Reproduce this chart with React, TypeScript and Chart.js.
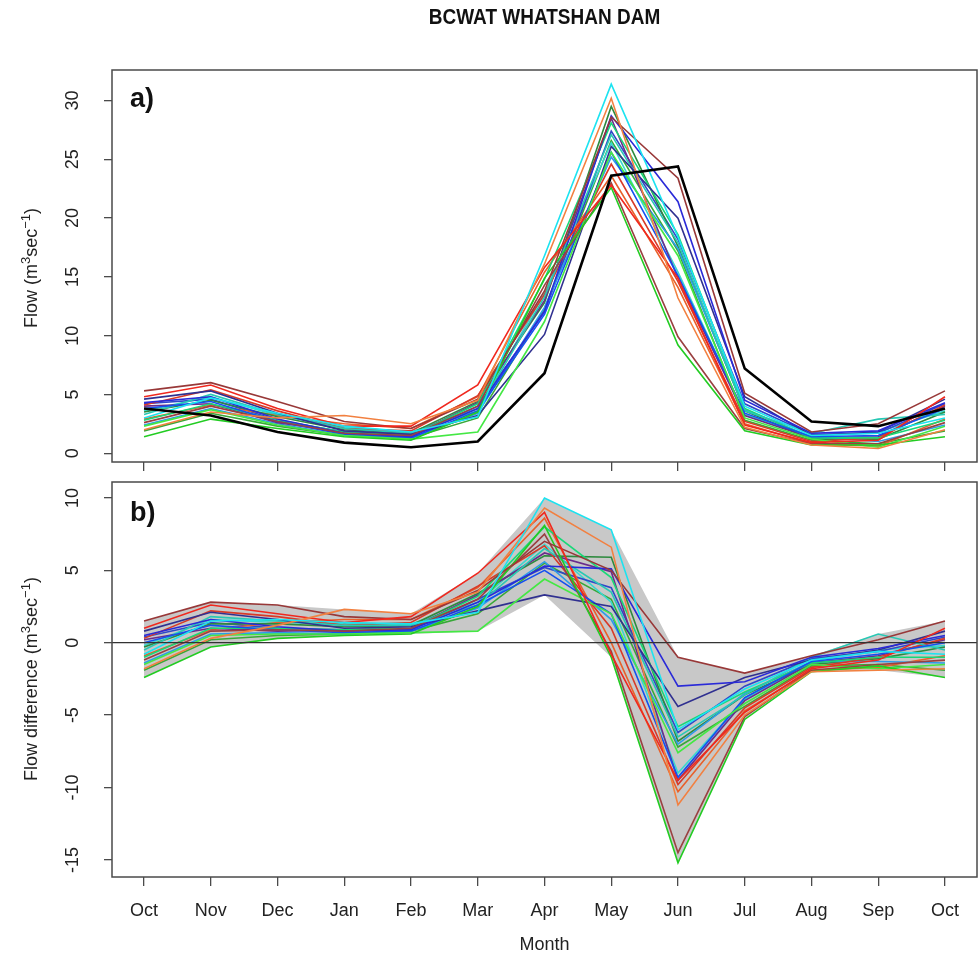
import React, { useEffect, useRef } from "react";
import { Chart, registerables } from "chart.js";

Chart.register(...registerables);

// ---------- data ----------
const MONTHS = ["Oct", "Nov", "Dec", "Jan", "Feb", "Mar", "Apr", "May", "Jun", "Jul", "Aug", "Sep", "Oct"];
const FLOW_TICKS = [0, 5, 10, 15, 20, 25, 30];
const DIFF_TICKS = [-15, -10, -5, 0, 5, 10];

const OBSERVED_FLOW = [3.8, 3.2, 1.8, 0.9, 0.5, 1.0, 6.8, 23.6, 24.4, 7.2, 2.7, 2.3, 3.8];

const FLOW_01 = [3.0, 4.7, 3.4, 2.3, 1.8, 3.1, 16.8, 31.4, 18.4, 4.0, 1.5, 1.7, 3.0];
const FLOW_02 = [2.0, 3.5, 3.0, 3.2, 2.5, 4.5, 16.1, 30.2, 13.2, 2.2, 0.7, 0.4, 2.0];
const FLOW_03 = [4.8, 5.8, 3.8, 2.3, 2.3, 5.8, 15.8, 22.8, 14.9, 2.4, 0.9, 1.1, 4.8];
const FLOW_04 = [5.3, 6.0, 4.4, 2.7, 2.1, 4.6, 13.8, 28.6, 23.4, 5.1, 1.8, 2.5, 5.3];
const FLOW_05 = [1.4, 2.9, 2.1, 1.4, 1.1, 3.5, 14.9, 22.6, 9.2, 1.9, 0.7, 0.7, 1.4];
const FLOW_06 = [2.6, 4.0, 2.7, 1.7, 1.5, 4.0, 14.3, 23.0, 9.9, 2.1, 0.8, 0.8, 2.6];
const FLOW_07 = [2.3, 3.7, 2.4, 1.5, 1.2, 1.8, 11.2, 25.6, 16.8, 3.0, 1.2, 0.5, 2.3];
const FLOW_08 = [4.3, 4.8, 2.9, 1.7, 1.4, 3.8, 12.1, 28.7, 21.4, 4.5, 1.7, 1.9, 4.3];
const FLOW_09 = [4.6, 5.3, 3.4, 1.9, 1.6, 3.2, 10.1, 26.1, 20.0, 4.8, 1.5, 1.8, 4.6];
const FLOW_10 = [3.8, 4.4, 2.7, 1.6, 1.3, 3.6, 11.8, 25.6, 15.1, 3.4, 1.4, 1.5, 3.8];
const FLOW_11 = [3.3, 5.0, 3.3, 2.1, 1.7, 3.6, 13.3, 27.1, 17.9, 3.6, 1.7, 2.9, 3.3];
const FLOW_12 = [2.8, 4.2, 2.8, 1.8, 1.5, 4.2, 14.8, 28.1, 18.6, 3.8, 1.3, 1.3, 2.8];
const FLOW_13 = [4.1, 5.4, 3.6, 2.1, 1.9, 4.9, 13.5, 24.6, 14.6, 2.7, 1.0, 1.3, 4.1];
const FLOW_14 = [4.0, 4.2, 2.6, 1.8, 1.5, 4.3, 13.0, 28.5, 14.9, 3.2, 1.3, 1.4, 4.0];
const FLOW_15 = [2.4, 3.8, 2.5, 1.5, 1.3, 3.4, 12.4, 25.2, 17.4, 3.7, 1.4, 1.0, 2.4];
const FLOW_16 = [3.5, 4.5, 3.1, 2.0, 1.7, 4.4, 12.8, 29.5, 17.6, 3.6, 1.2, 1.2, 3.5];
const FLOW_17 = [2.9, 4.1, 3.2, 2.5, 2.1, 4.8, 15.4, 23.6, 14.1, 2.5, 0.8, 0.6, 2.9];
const FLOW_18 = [4.2, 4.6, 2.8, 1.8, 1.4, 4.0, 12.0, 27.4, 18.2, 4.2, 1.6, 1.7, 4.2];
const FLOW_19 = [3.6, 4.8, 3.2, 2.2, 1.8, 3.8, 13.6, 26.4, 15.4, 3.3, 1.4, 1.8, 3.6];
const FLOW_20 = [1.9, 3.4, 2.3, 1.5, 1.3, 3.0, 12.3, 26.6, 17.2, 2.8, 1.1, 0.8, 1.9];

const DIFF_01 = [-0.8, 1.5, 1.6, 1.4, 1.3, 2.1, 10.0, 7.8, -6.0, -3.2, -1.2, -0.6, -0.8];
const DIFF_02 = [-1.8, 0.3, 1.2, 2.3, 2.0, 3.5, 9.3, 6.6, -11.2, -5.0, -2.0, -1.9, -1.8];
const DIFF_03 = [1.0, 2.6, 2.0, 1.4, 1.8, 4.8, 9.0, -0.8, -9.5, -4.8, -1.8, -1.2, 1.0];
const DIFF_04 = [1.5, 2.8, 2.6, 1.8, 1.6, 3.6, 7.0, 5.0, -1.0, -2.1, -0.9, 0.2, 1.5];
const DIFF_05 = [-2.4, -0.3, 0.3, 0.5, 0.6, 2.5, 8.1, -1.0, -15.2, -5.3, -2.0, -1.6, -2.4];
const DIFF_06 = [-1.2, 0.8, 0.9, 0.8, 1.0, 3.0, 7.5, -0.6, -14.5, -5.1, -1.9, -1.5, -1.2];
const DIFF_07 = [-1.5, 0.5, 0.6, 0.6, 0.7, 0.8, 4.4, 2.0, -7.6, -4.2, -1.5, -1.8, -1.5];
const DIFF_08 = [0.5, 1.6, 1.1, 0.8, 0.9, 2.8, 5.3, 5.1, -3.0, -2.7, -1.0, -0.4, 0.5];
const DIFF_09 = [0.8, 2.1, 1.6, 1.0, 1.1, 2.2, 3.3, 2.5, -4.4, -2.4, -1.2, -0.5, 0.8];
const DIFF_10 = [0.0, 1.2, 0.9, 0.7, 0.8, 2.6, 5.0, 2.0, -9.3, -3.8, -1.3, -0.8, 0.0];
const DIFF_11 = [-0.5, 1.8, 1.5, 1.2, 1.2, 2.6, 6.5, 3.5, -6.5, -3.6, -1.0, 0.6, -0.5];
const DIFF_12 = [-1.0, 1.0, 1.0, 0.9, 1.0, 3.2, 8.0, 4.5, -5.8, -3.4, -1.4, -1.0, -1.0];
const DIFF_13 = [0.3, 2.2, 1.8, 1.2, 1.4, 3.9, 6.7, 1.0, -9.8, -4.5, -1.7, -1.0, 0.3];
const DIFF_14 = [0.2, 1.0, 0.8, 0.9, 1.0, 3.3, 6.2, 4.9, -9.5, -4.0, -1.4, -0.9, 0.2];
const DIFF_15 = [-1.4, 0.6, 0.7, 0.6, 0.8, 2.4, 5.6, 1.6, -7.0, -3.5, -1.3, -1.3, -1.4];
const DIFF_16 = [-0.3, 1.3, 1.3, 1.1, 1.2, 3.4, 6.0, 5.9, -6.8, -3.6, -1.5, -1.1, -0.3];
const DIFF_17 = [-0.9, 0.9, 1.4, 1.6, 1.6, 3.8, 8.6, 0.0, -10.3, -4.7, -1.9, -1.7, -0.9];
const DIFF_18 = [0.4, 1.4, 1.0, 0.9, 0.9, 3.0, 5.2, 3.8, -6.2, -3.0, -1.1, -0.6, 0.4];
const DIFF_19 = [-0.2, 1.6, 1.4, 1.3, 1.3, 2.8, 6.8, 2.8, -9.0, -3.9, -1.3, -0.5, -0.2];
const DIFF_20 = [-1.9, 0.2, 0.5, 0.6, 0.8, 2.0, 5.5, 3.0, -7.2, -4.4, -1.6, -1.5, -1.9];

const ENVELOPE_MAX = [1.5, 2.8, 2.6, 2.3, 2.0, 4.8, 10.0, 7.8, -1.0, -2.1, -0.9, 0.6, 1.5];
const ENVELOPE_MIN = [-2.4, -0.3, 0.3, 0.5, 0.6, 0.8, 3.3, -1.0, -15.2, -5.3, -2.0, -1.9, -2.4];
const ZERO_LINE = 0;

const RUN_FLOWS = [FLOW_01, FLOW_02, FLOW_03, FLOW_04, FLOW_05, FLOW_06, FLOW_07, FLOW_08, FLOW_09, FLOW_10,
  FLOW_11, FLOW_12, FLOW_13, FLOW_14, FLOW_15, FLOW_16, FLOW_17, FLOW_18, FLOW_19, FLOW_20];
const RUN_DIFFS = [DIFF_01, DIFF_02, DIFF_03, DIFF_04, DIFF_05, DIFF_06, DIFF_07, DIFF_08, DIFF_09, DIFF_10,
  DIFF_11, DIFF_12, DIFF_13, DIFF_14, DIFF_15, DIFF_16, DIFF_17, DIFF_18, DIFF_19, DIFF_20];

// ---------- styles ----------
const RUN_COLORS = [
  "#1CE3F0", "#F28040", "#F0281E", "#983838", "#22CC22",
  "#9A4040", "#44E844", "#2A2AD8", "#303090", "#1450F0",
  "#28C8B4", "#18D878", "#D83A28", "#6A2C8C", "#2C9CE8",
  "#2E8A3E", "#E8602A", "#3048C8", "#38D8D0", "#38A838",
];
const FONT_FAMILY = "'Liberation Sans', Arimo, Arial, Helvetica, sans-serif";
const AXIS_COLOR = "#4a4a4a";
const TEXT_COLOR = "#222";
const FONT_SIZE = 18;
const X_MIN = -0.48;
const X_MAX = 12.48;
const FLOW_MIN = -0.75;
const FLOW_MAX = 32.6;
const DIFF_MIN = -16.18;
const DIFF_MAX = 11.1;

const toPoints = (vals: number[]) => vals.map((y, x) => ({ x, y }));

const boxPlugin = {
  id: "boxFrame",
  afterDatasetsDraw(chart: any) {
    const { ctx, chartArea: a, scales } = chart;
    ctx.save();
    if (chart.options.plugins.zeroLine?.show) {
      const y = scales.y.getPixelForValue(ZERO_LINE);
      ctx.strokeStyle = "#333";
      ctx.lineWidth = 1.3;
      ctx.beginPath();
      ctx.moveTo(a.left, y);
      ctx.lineTo(a.right, y);
      ctx.stroke();
    }
    ctx.strokeStyle = AXIS_COLOR;
    ctx.lineWidth = 1.5;
    ctx.strokeRect(a.left, a.top, a.right - a.left, a.bottom - a.top);
    ctx.restore();
  },
};

function xScale(showLabels: boolean, height: number) {
  return {
    type: "linear",
    min: X_MIN,
    max: X_MAX,
    bounds: "data",
    afterBuildTicks: (s: any) => {
      s.ticks = MONTHS.map((_, i) => ({ value: i }));
    },
    afterFit: (s: any) => {
      s.height = height;
      s.paddingLeft = 0;
      s.paddingRight = 0;
      s.paddingTop = 0;
      s.paddingBottom = 0;
    },
    border: { display: false },
    grid: {
      drawOnChartArea: false,
      drawTicks: true,
      tickLength: 9,
      lineWidth: 1.3,
      color: AXIS_COLOR,
      tickColor: AXIS_COLOR,
    },
    ticks: {
      display: showLabels,
      autoSkip: false,
      maxRotation: 0,
      minRotation: 0,
      padding: 14,
      color: TEXT_COLOR,
      font: { family: FONT_FAMILY, size: FONT_SIZE },
      callback: (v: any) => MONTHS[Math.round(Number(v))] ?? "",
    },
    title: {
      display: showLabels,
      text: "Month",
      color: TEXT_COLOR,
      font: { family: FONT_FAMILY, size: FONT_SIZE },
      padding: { top: 0, bottom: 4 },
    },
  };
}

function yScale(min: number, max: number, ticks: number[], pad: number) {
  return {
    type: "linear",
    min,
    max,
    bounds: "data",
    afterBuildTicks: (s: any) => {
      s.ticks = ticks.map((v) => ({ value: v }));
    },
    afterFit: (s: any) => {
      s.width = 112;
      s.paddingLeft = 0;
      s.paddingRight = 0;
      s.paddingTop = 0;
      s.paddingBottom = 0;
    },
    border: { display: false },
    grid: {
      drawOnChartArea: false,
      drawTicks: true,
      tickLength: 8,
      lineWidth: 1.3,
      color: AXIS_COLOR,
      tickColor: AXIS_COLOR,
    },
    ticks: {
      minRotation: 90,
      maxRotation: 90,
      crossAlign: "center",
      padding: pad,
      color: TEXT_COLOR,
      font: { family: FONT_FAMILY, size: FONT_SIZE },
    },
    title: { display: false },
  };
}

function flowConfig(): any {
  const runs = RUN_FLOWS.map((vals, i) => ({
    data: toPoints(vals),
    borderColor: RUN_COLORS[i],
    borderWidth: 1.6,
    pointRadius: 0,
    fill: false,
    tension: 0,
  }));
  return {
    type: "line",
    data: {
      datasets: [
        { data: toPoints(OBSERVED_FLOW), borderColor: "#000", borderWidth: 2.6, pointRadius: 0, fill: false, tension: 0 },
        ...runs,
      ],
    },
    options: {
      responsive: false,
      animation: false,
      events: [],
      layout: { padding: { top: 70, right: 3, left: 0, bottom: 0 } },
      plugins: { legend: { display: false }, tooltip: { enabled: false }, zeroLine: { show: false } },
      scales: {
        x: xScale(false, 18),
        y: yScale(FLOW_MIN, FLOW_MAX, FLOW_TICKS, 21),
      },
    },
    plugins: [boxPlugin],
  };
}

function diffConfig(): any {
  const runs = RUN_DIFFS.map((vals, i) => ({
    data: toPoints(vals),
    borderColor: RUN_COLORS[i],
    borderWidth: 1.6,
    pointRadius: 0,
    fill: false,
    tension: 0,
  }));
  return {
    type: "line",
    data: {
      datasets: [
        ...runs,
        {
          data: toPoints(ENVELOPE_MAX),
          borderWidth: 0,
          borderColor: "rgba(0,0,0,0)",
          backgroundColor: "rgb(200,200,200)",
          pointRadius: 0,
          fill: "+1",
          tension: 0,
          order: 100,
        },
        {
          data: toPoints(ENVELOPE_MIN),
          borderWidth: 0,
          borderColor: "rgba(0,0,0,0)",
          pointRadius: 0,
          fill: false,
          tension: 0,
          order: 100,
        },
      ],
    },
    options: {
      responsive: false,
      animation: false,
      events: [],
      layout: { padding: { top: 2, right: 3, left: 0, bottom: 0 } },
      plugins: { legend: { display: false }, tooltip: { enabled: false }, zeroLine: { show: true } },
      scales: {
        x: xScale(true, 83),
        y: yScale(DIFF_MIN, DIFF_MAX, DIFF_TICKS, 18),
      },
    },
    plugins: [boxPlugin],
  };
}

function Panel({ makeConfig, top, height }: { makeConfig: () => any; top: number; height: number }) {
  const ref = useRef<HTMLCanvasElement>(null);
  useEffect(() => {
    const chart = new Chart(ref.current as HTMLCanvasElement, makeConfig());
    return () => chart.destroy();
  }, []);
  return (
    <canvas
      ref={ref}
      width={980}
      height={height}
      style={{ position: "absolute", left: 0, top, width: 980, height, display: "block" }}
    />
  );
}

const labelStyle: React.CSSProperties = {
  position: "absolute",
  fontFamily: FONT_FAMILY,
  fontWeight: "bold",
  fontSize: 27,
  lineHeight: "28px",
  color: "#111",
};

const supStyle: React.CSSProperties = { fontSize: 13, position: "relative", top: -7 };

function YTitle({ text, cy }: { text: string; cy: number }) {
  return (
    <div
      style={{
        position: "absolute",
        left: 32,
        top: cy,
        transform: "translate(-50%, -50%) rotate(-90deg)",
        whiteSpace: "nowrap",
        fontFamily: FONT_FAMILY,
        fontSize: FONT_SIZE,
        lineHeight: "20px",
        color: TEXT_COLOR,
      }}
    >
      {text} (m<span style={supStyle}>3</span>sec<span style={supStyle}>−1</span>)
    </div>
  );
}

export default function App() {
  return (
    <div style={{ position: "absolute", left: 0, top: 0, width: 980, height: 960, background: "#fff", overflow: "hidden" }}>
      <Panel makeConfig={flowConfig} top={0} height={480} />
      <Panel makeConfig={diffConfig} top={480} height={480} />
      <div
        style={{
          position: "absolute",
          left: 112,
          width: 865,
          top: 6,
          textAlign: "center",
          fontFamily: FONT_FAMILY,
          fontWeight: "bold",
          fontSize: 19,
          lineHeight: "22px",
          transform: "scaleY(1.15)",
          color: "#111",
        }}
      >
        BCWAT WHATSHAN DAM
      </div>
      <YTitle text="Flow" cy={268} />
      <YTitle text="Flow difference" cy={679} />
      <div style={{ ...labelStyle, left: 130, top: 84 }}>a)</div>
      <div style={{ ...labelStyle, left: 130, top: 498 }}>b)</div>
    </div>
  );
}
